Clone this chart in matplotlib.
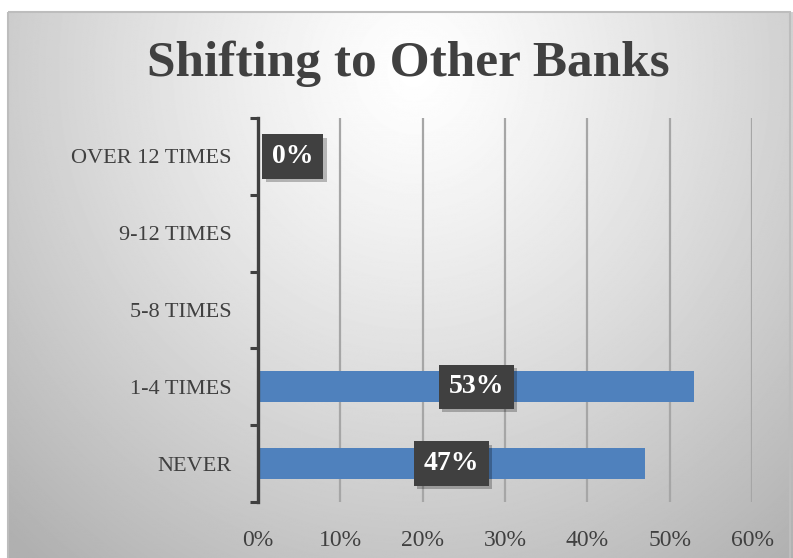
import matplotlib.pyplot as plt
import matplotlib.patheffects as pe
import numpy as np
from matplotlib.patches import Rectangle
from matplotlib.ticker import FuncFormatter, FixedLocator

categories = ["NEVER", "1-4 TIMES", "5-8 TIMES", "9-12 TIMES", "OVER 12 TIMES"]
shares = [0.47, 0.53, 0.0, 0.0, 0.0]
labelled = [True, True, False, False, True]
x_ticks = [0.0, 0.1, 0.2, 0.3, 0.4, 0.5, 0.6]

BAR_COLOR = "#4f81bd"
TEXT_COLOR = "#404040"
SERIF = ["Liberation Serif", "DejaVu Serif"]

fig = plt.figure(figsize=(7.93, 5.58), dpi=100)

# chart area background: soft radial gradient inside a thin grey frame
bg = fig.add_axes([0, 0, 1, 1], zorder=-10)
bg.axis("off")
yy, xx = np.mgrid[0:558, 0:793]
dist = np.sqrt(((xx - 410) / 500.0) ** 2 + ((yy - 60) / 540.0) ** 2)
shade = 1.0 - 0.25 * np.clip(dist, 0, 1.2) ** 1.2
bg.imshow(shade, cmap="gray", vmin=0, vmax=1, extent=(8, 793, 558, 12),
          interpolation="bilinear", aspect="auto")
bg.add_patch(Rectangle((8, 12), 782, 560, fill=False, edgecolor="#bdbdbd", lw=1.5))
bg.set_xlim(0, 793)
bg.set_ylim(558, 0)

ax = fig.add_axes([258 / 793, 1 - 502 / 558, 494 / 793, 384 / 558])
ax.patch.set_alpha(0)

pos = np.arange(len(categories))
ax.barh(pos, shares, height=0.4, color=BAR_COLOR, zorder=3)

ax.set_xlim(0, 0.6)
ax.set_ylim(-0.5, len(categories) - 0.5)

ax.xaxis.set_major_locator(FixedLocator(x_ticks))
ax.xaxis.set_major_formatter(FuncFormatter(lambda v, _: f"{v * 100:.0f}%"))
ax.tick_params(axis="x", length=0, pad=20, labelsize=17, labelcolor=TEXT_COLOR)
ax.grid(axis="x", color="#a6a6a6", lw=1.6, zorder=1)

ax.yaxis.set_major_locator(FixedLocator(np.arange(-0.5, len(categories), 1.0)))
ax.yaxis.set_major_formatter(FuncFormatter(lambda v, _: ""))
ax.set_yticks(pos, minor=True)
ax.set_yticklabels(categories, minor=True)
ax.tick_params(axis="y", which="major", direction="out", length=6,
               width=2.2, color=TEXT_COLOR)
ax.tick_params(axis="y", which="minor", length=0, pad=19, labelsize=16,
               labelcolor=TEXT_COLOR)

for side in ["top", "right", "bottom"]:
    ax.spines[side].set_visible(False)
ax.spines["left"].set_color(TEXT_COLOR)
ax.spines["left"].set_linewidth(2.4)
ax.spines["left"].set_zorder(4)

for p, v, show in zip(pos, shares, labelled):
    if not show:
        continue
    if v > 0:
        t = ax.annotate(f"{v * 100:.0f}%", xy=(v / 2, p), ha="center", va="center")
    else:
        t = ax.annotate(f"{v * 100:.0f}%", xy=(0, p), xytext=(10, 0),
                        textcoords="offset points", ha="left", va="center")
    t.set_fontsize(20)
    t.set_fontweight("bold")
    t.set_family(SERIF)
    t.set_color("white")
    t.set_zorder(6)
    t.set_bbox(dict(boxstyle="square,pad=0.35", facecolor="#404040", edgecolor="none"))
    t.get_bbox_patch().set_path_effects([
        pe.SimplePatchShadow(offset=(2.5, -2.5), shadow_rgbFace="black", alpha=0.25),
        pe.Normal(),
    ])

for lbl in ax.get_xticklabels() + ax.get_yticklabels(minor=True):
    lbl.set_family(SERIF)

fig.text(0.515, 1 - 64 / 558, "Shifting to Other Banks", ha="center", va="center",
         fontsize=37, fontweight="bold", color=TEXT_COLOR, family=SERIF)

fig.savefig("out.png", dpi=100)
